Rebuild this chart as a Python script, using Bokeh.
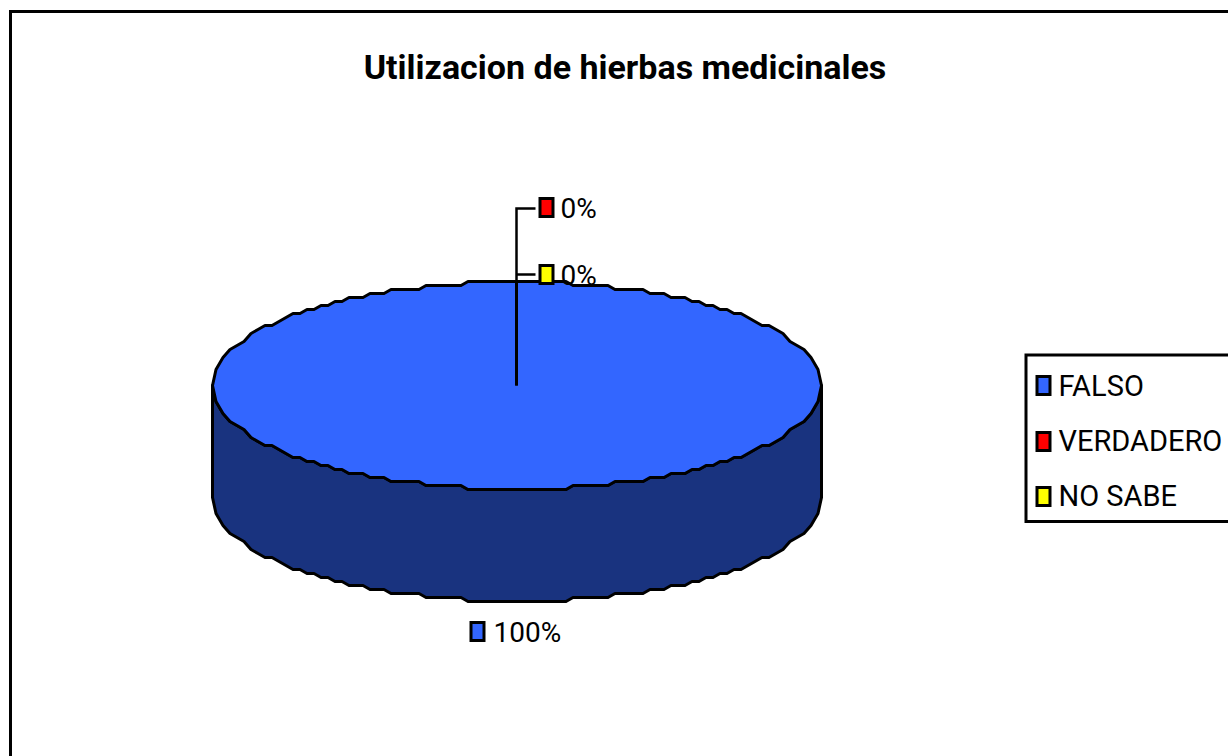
import math
from bokeh.plotting import figure
from bokeh.core.properties import value
from bokeh.embed import file_html
from bokeh.resources import INLINE

TITLE = "Utilizacion de hierbas medicinales"
categories = ["FALSO", "VERDADERO", "NO SABE"]
series_values = [100, 0, 0]
pct_labels = ["100%", "0%", "0%"]
top_colors = ["#3366FF", "#FF0000", "#FFFF00"]
side_colors = ["#19337F", "#7F0000", "#7F7F00"]

FONT = "Roboto"
W, H = 1228, 756
p = figure(width=W, height=H, x_range=(0, W), y_range=(H, 0),
           toolbar_location=None, output_backend="svg", min_border=0,
           outline_line_color=None, background_fill_color="white", border_fill_color="white")
p.xaxis.visible = False
p.yaxis.visible = False
p.grid.visible = False

# pie geometry in page pixels
CX, CY, RX, RY, DEPTH = 516.5, 385.0, 304.5, 103.5, 112.0
XSTEP, YSTEP = 7.0, 4.0

def rim_angles(a_hi, a_lo):
    """Angles from a_hi down to a_lo, chosen so the rim falls on a coarse x grid,
    which gives the stepped outline of the low-resolution source."""
    out = []
    k_max = int(RX / XSTEP)
    base = []
    for k in range(-k_max, k_max + 1):
        c = k * XSTEP / RX
        a = math.degrees(math.acos(c))
        base += [a, 360 - a]
    base += [0, 180, 360]
    for a in sorted(set(base), reverse=True):
        for shift in (0, 360, -360):
            b = a + shift
            if a_lo <= b <= a_hi:
                out.append(b)
    out = sorted(set(out), reverse=True)
    return [a_hi] + out + [a_lo]

def pt(deg, dy=0.0):
    a = math.radians(deg)
    x = CX + RX * math.cos(a)
    y = CY - RY * math.sin(a)
    y = CY + round((y - CY) / YSTEP) * YSTEP
    return x, y + dy

def arc(a_hi, a_lo, dy=0.0):
    return [pt(a, dy) for a in rim_angles(a_hi, a_lo)]

total = sum(series_values)
start = 90.0
for v, ct, cs in zip(series_values, top_colors, side_colors):
    sweep = 360.0 * v / total
    if sweep <= 0:
        continue
    end = start - sweep
    lower = arc(360, 180)
    wall = lower + [(q[0], q[1] + DEPTH) for q in reversed(lower)]
    p.patch([q[0] for q in wall], [q[1] for q in wall], fill_color=cs,
            line_color="black", line_width=3, line_join="round")
    top = arc(start, end)
    p.patch([q[0] for q in top], [q[1] for q in top], fill_color=ct,
            line_color="black", line_width=3, line_join="round")
    start = end

# frame
p.line([10, 10, W], [H, 11, 11], line_color="black", line_width=3, line_join="miter")

# title
p.text([624.5], [66], text=[TITLE], text_font=value("Roboto"), text_font_style="bold",
       text_font_size="34px", text_align="center", text_baseline="alphabetic", text_color="black")

# leader lines
p.line([516, 516, 535], [385, 208, 208], line_color="black", line_width=2.5, line_join="miter")
p.line([516, 535], [274, 274], line_color="black", line_width=2.5)
p.line([516, 516], [281, 385], line_color="black", line_width=3)

# data labels
lab_x = [477, 546, 546]
lab_y = [631, 207, 274]
tx = [493, 560, 560]
ty = [632, 208, 275]
p.rect(lab_x, lab_y, width=13, height=18, fill_color=top_colors, line_color="black",
       line_width=3, line_join="miter")
p.text(tx, ty, text=pct_labels, text_font=value(FONT), text_font_size="28px",
       text_baseline="alphabetic", text_color="black")

# legend
p.line([W, 1025.5, 1025.5, W], [354.5, 354.5, 521, 521], line_color="black", line_width=3, line_join="miter")
p.rect([1043] * 3, [385, 441, 496], width=13, height=18, fill_color=top_colors, line_color="black",
       line_width=3, line_join="miter")
p.text([1058] * 3, [385, 440, 495], text=categories, text_font=value(FONT), text_font_size="29px",
       text_baseline="alphabetic", text_color="black")

open("out.html", "w").write(file_html(p, INLINE))
